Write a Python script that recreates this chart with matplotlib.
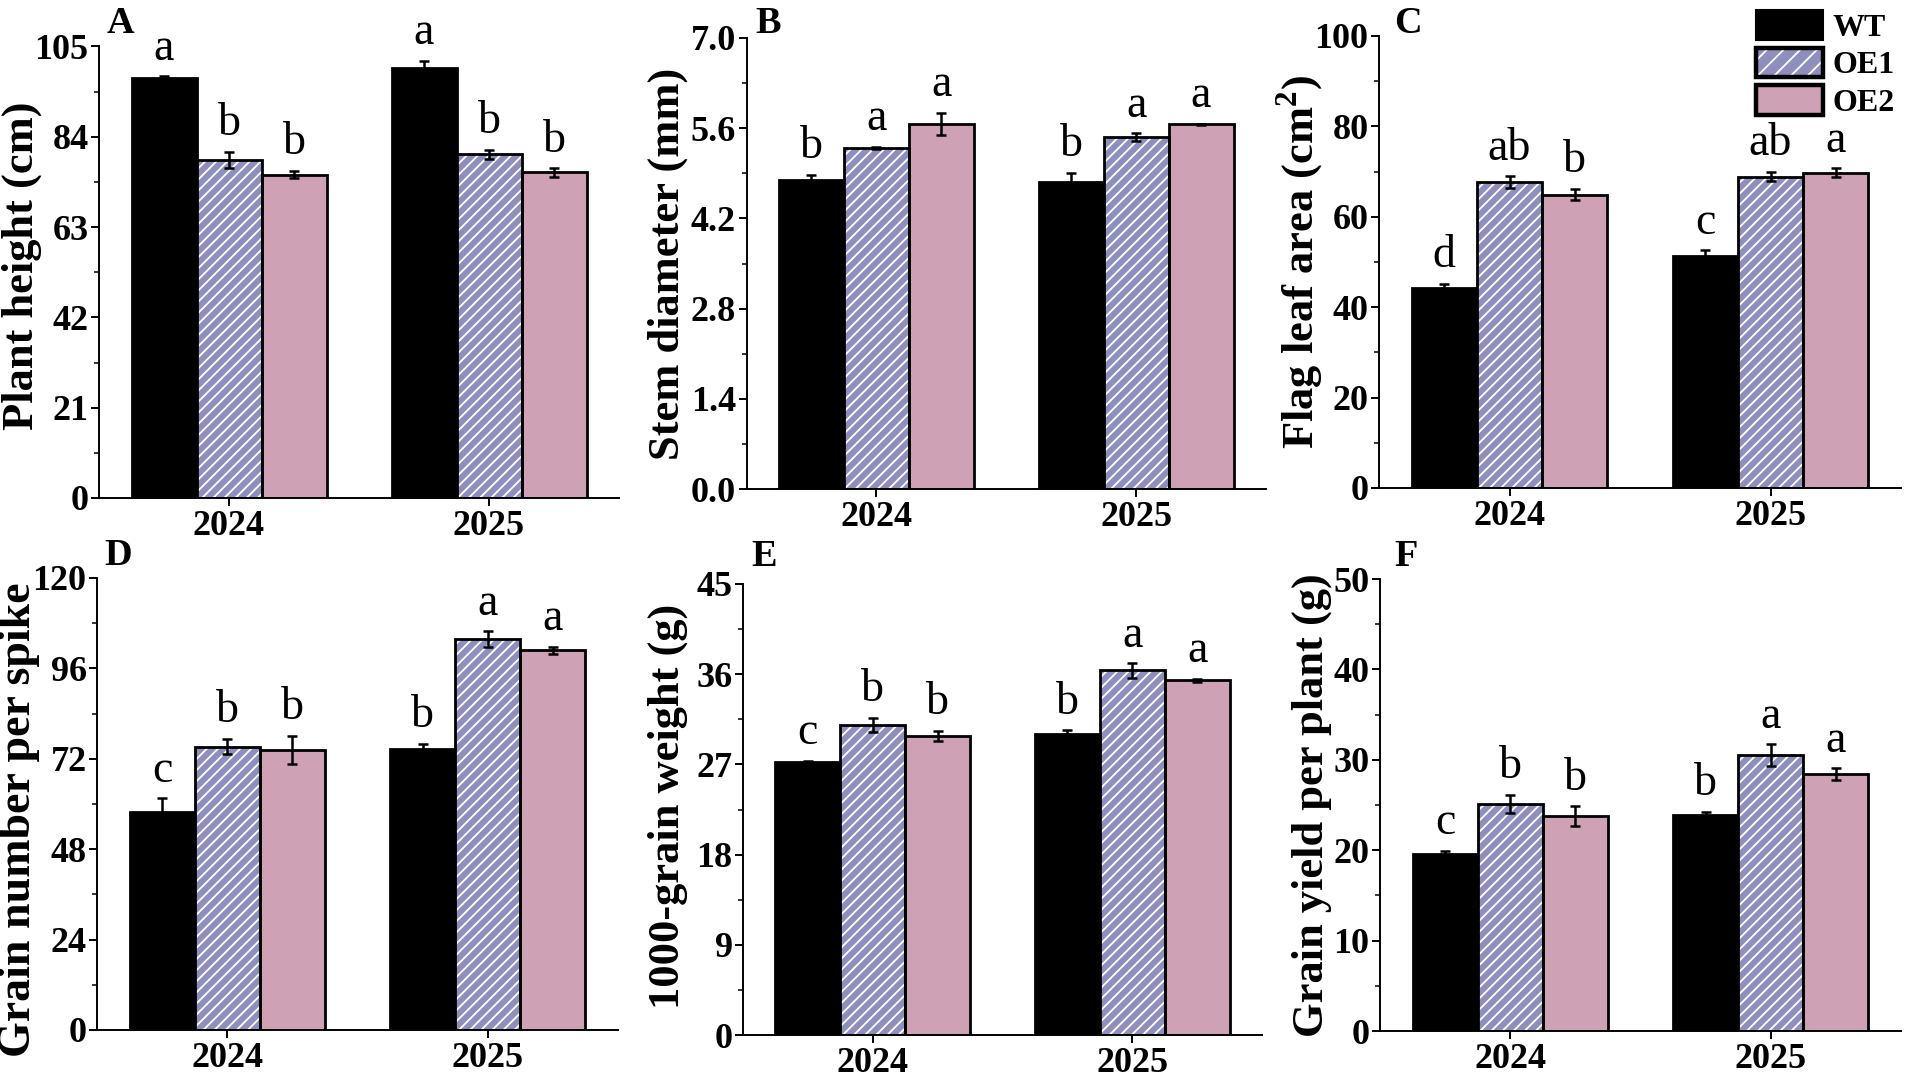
import matplotlib
matplotlib.use("Agg")
import matplotlib.pyplot as plt
import numpy as np
from matplotlib.patches import Patch
from matplotlib.legend_handler import HandlerTuple

plt.rcParams["font.family"] = ["Liberation Serif", "DejaVu Serif"]
plt.rcParams["font.weight"] = "bold"
plt.rcParams["mathtext.fontset"] = "custom"
plt.rcParams["mathtext.rm"] = "Liberation Serif:bold"
plt.rcParams["mathtext.bf"] = "Liberation Serif:bold"
plt.rcParams["hatch.linewidth"] = 1.3

# ---- data (rows: WT, OE1, OE2 ; columns: 2024, 2025) ----
years = ["2024", "2025"]
lines = ["WT", "OE1", "OE2"]

height_mean = [[97.6, 100.0], [78.6, 79.9], [75.2, 75.7]]
height_err = [[0.5, 1.6], [1.9, 1.0], [0.85, 1.0]]
height_sig = [["a", "a"], ["b", "b"], ["b", "b"]]

stem_mean = [[4.79, 4.77], [5.29, 5.46], [5.67, 5.66]]
stem_err = [[0.09, 0.14], [0.02, 0.06], [0.17, 0.01]]
stem_sig = [["b", "b"], ["a", "a"], ["a", "a"]]

leaf_mean = [[44.2, 51.4], [67.7, 68.9], [64.9, 69.7]]
leaf_err = [[1.0, 1.2], [1.25, 1.05], [1.25, 1.0]]
leaf_sig = [["d", "c"], ["ab", "ab"], ["b", "a"]]

grain_mean = [[57.8, 74.7], [75.2, 103.8], [74.3, 100.8]]
grain_err = [[3.7, 1.2], [2.05, 2.05], [3.8, 1.0]]
grain_sig = [["c", "b"], ["b", "a"], ["b", "a"]]

tgw_mean = [[27.24, 30.06], [30.95, 36.38], [29.85, 35.42]]
tgw_err = [[0.1, 0.35], [0.7, 0.72], [0.5, 0.15]]
tgw_sig = [["c", "b"], ["b", "a"], ["b", "a"]]

yield_mean = [[19.6, 23.86], [25.15, 30.49], [23.74, 28.39]]
yield_err = [[0.35, 0.42], [1.0, 1.22], [1.1, 0.67]]
yield_sig = [["c", "b"], ["b", "a"], ["b", "a"]]

W, H = 1905, 1077
fig = plt.figure(figsize=(W / 100, H / 100), dpi=100)

C = ["black", "#8F8FBF", "#CFA1B5"]
offsets = [-0.25, 0.0, 0.25]
bw = 0.25


def px_axes(left, right, top, bottom):
    return fig.add_axes([left / W, 1 - bottom / H, (right - left) / W, (bottom - top) / H])


def panel(box, letter, lpos, ylabel, lxy, lsize, mean, err, sig, ymax, fmt):
    ax = px_axes(*box)
    x = np.arange(len(years))
    for i in range(len(lines)):
        xs = x + offsets[i]
        if i == 1:
            ax.bar(xs, mean[i], bw, color=C[i], hatch="///", edgecolor="white", lw=0, zorder=2)
            ax.bar(xs, mean[i], bw, fill=False, edgecolor="black", lw=2.0, zorder=3)
        else:
            ax.bar(xs, mean[i], bw, color=C[i], edgecolor="black", lw=2.0, zorder=2)
        ax.errorbar(xs, mean[i], yerr=err[i], fmt="none", ecolor="black",
                    elinewidth=1.8, capsize=3.8, capthick=1.8, zorder=4)
        for xx, m, e, s in zip(xs, mean[i], err[i], sig[i]):
            ax.annotate(s, (xx, m + e), xytext=(0, 12), textcoords="offset points",
                        ha="center", va="baseline", fontsize=33, fontweight="normal")
    ax.set_xlim(-0.5, 1.5)
    ax.set_ylim(0, ymax)
    ax.set_xticks(x, years)
    ax.set_yticks(np.linspace(0, ymax, 6))
    ax.set_yticks(np.linspace(0, ymax, 11), minor=True)
    ax.set_yticklabels([fmt % v for v in np.linspace(0, ymax, 6)])
    for s in ["top", "right"]:
        ax.spines[s].set_visible(False)
    for s in ["left", "bottom"]:
        ax.spines[s].set_linewidth(1.4)
    ax.tick_params(axis="y", which="major", length=6, width=1.4, labelsize=26, pad=1.5)
    ax.tick_params(axis="y", which="minor", length=3.5, width=1.1)
    ax.tick_params(axis="x", which="major", length=6, width=1.4, labelsize=26, pad=2.5)
    fig.text(lxy[0] / W, 1 - lxy[1] / H, ylabel, rotation=90, ha="center", va="center",
             fontsize=lsize, fontweight="bold")
    fig.text(lpos[0] / W, 1 - lpos[1] / H, letter, fontsize=27.5, fontweight="bold",
             va="baseline")
    return ax


panel((99, 619, 46.5, 498), "A", (107, 33), "Plant height (cm)", (22, 266), 32,
      height_mean, height_err, height_sig, 105, "%d")
panel((746.5, 1266, 38, 489), "B", (755, 33), "Stem diameter (mm)", (668, 264), 32,
      stem_mean, stem_err, stem_sig, 7.0, "%.1f")
panel((1379, 1901, 36, 488), "C", (1394, 33), r"Flag leaf area (cm$^\mathbf{2}$)", (1300, 262), 32,
      leaf_mean, leaf_err, leaf_sig, 100, "%d")
panel((97, 618, 578, 1030), "D", (104, 565), "Grain number per spike", (19, 820), 33,
      grain_mean, grain_err, grain_sig, 120, "%d")
panel((743, 1262, 584, 1035), "E", (751, 566), "1000-grain weight (g)", (668, 806), 32,
      tgw_mean, tgw_err, tgw_sig, 45, "%d")
panel((1380, 1901, 579, 1031), "F", (1394, 566), "Grain yield per plant (g)", (1312, 805), 32,
      yield_mean, yield_err, yield_sig, 50, "%d")

# legend (top right, over panel C)
handles = [
    Patch(facecolor=C[0], edgecolor="black", lw=1.5),
    (Patch(facecolor=C[1], hatch="//", edgecolor="white", lw=0),
     Patch(fill=False, edgecolor="black", lw=3.2)),
    Patch(facecolor=C[2], edgecolor="black", lw=3.2),
]
fig.legend(handles, lines, loc="upper left", bbox_to_anchor=(1756 / W, 1 - 10 / H),
           frameon=False, fontsize=23, handlelength=2.1, handleheight=1.05,
           labelspacing=0.15, handletextpad=0.3, borderpad=0, borderaxespad=0,
           handler_map={tuple: HandlerTuple(ndivide=1, pad=0)})

fig.savefig("out.png", dpi=100, facecolor="white")
